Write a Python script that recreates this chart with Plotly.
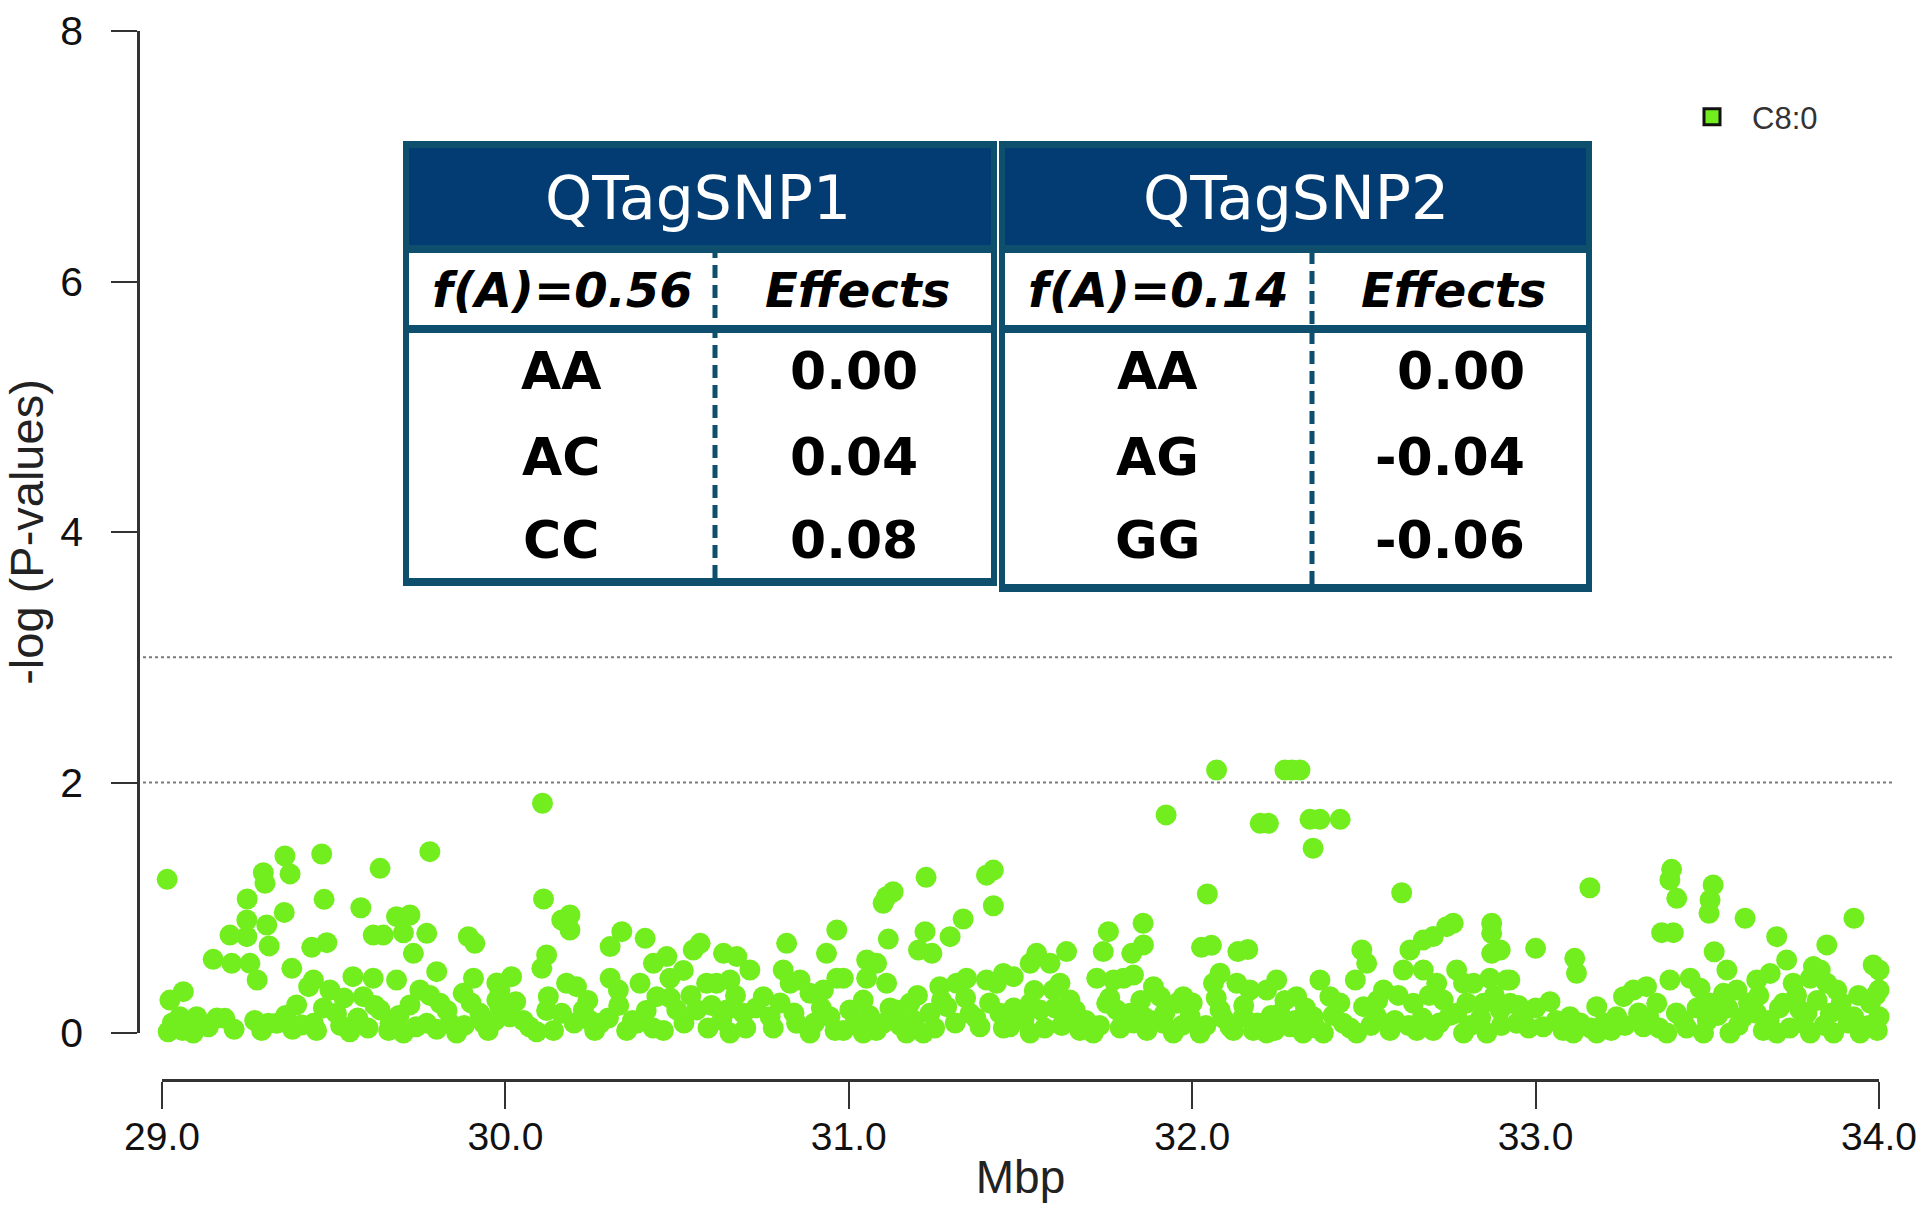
import plotly.graph_objects as go

# ---------------- data ----------------
trait_name = "C8:0"

# SNP positions (Mbp) and -log10(P) values
snp_mbp = [
    29.015, 29.358, 29.373, 29.295, 29.300, 29.465, 29.635, 29.780, 29.248, 29.472, 29.579, 29.356, 29.247, 29.305,
    29.198, 29.247, 29.312, 29.149, 29.203, 29.256, 29.277, 29.436, 29.480, 29.378, 29.615, 29.683, 29.722, 29.644,
    29.771, 29.732, 29.703, 29.892, 29.911, 29.062, 29.023, 29.018, 29.052, 29.101, 29.135, 29.183, 29.091, 29.310,
    29.334, 29.392, 29.407, 29.441, 29.441, 29.427, 29.489, 29.508, 29.556, 29.615, 29.547, 29.586, 29.635, 29.664,
    29.683, 29.703, 29.722, 29.751, 29.800, 29.771, 29.810, 29.839, 29.858, 29.877, 29.907, 29.926, 29.975, 29.975,
    29.936,
    30.108, 30.111, 30.188, 30.188, 30.164, 30.120, 30.106, 30.018, 29.984, 29.984, 30.013, 30.052, 30.091, 30.125,
    30.178, 30.207, 30.164, 30.227, 30.276, 30.246, 30.339, 30.305, 30.407, 30.305, 30.329, 30.353, 30.382, 30.392,
    30.431, 30.470, 30.479, 30.518, 30.441, 30.460, 30.499, 30.567, 30.547, 30.586, 30.557, 30.635, 30.674, 30.712,
    30.615, 30.654, 30.645, 30.654, 30.693, 30.751, 30.771, 30.819, 30.809, 30.829, 30.858, 30.887, 30.848, 30.887,
    30.926, 30.935, 30.965, 30.965, 30.945,
    31.924, 30.984, 31.110, 31.129, 31.100, 31.225, 31.421, 31.401, 31.421, 31.115, 31.222, 31.333, 31.295, 31.203,
    31.242, 31.052, 31.081, 31.052, 31.110, 31.042, 31.003, 30.984, 31.042, 31.100, 31.139, 31.178, 31.168, 31.217,
    31.236, 31.265, 31.285, 31.314, 31.343, 31.353, 31.382, 31.401, 31.430, 31.450, 31.479, 31.440, 31.469, 31.528,
    31.547, 31.586, 31.634, 31.615, 31.528, 31.528, 31.557, 31.596, 31.644, 31.634, 31.673, 31.712, 31.722, 31.741,
    31.756, 31.771, 31.800, 31.829, 31.824, 31.858, 31.857, 31.780, 31.751, 31.819, 31.858, 31.887, 31.907, 31.868,
    31.916, 31.945, 31.955,
    32.071, 32.270, 32.290, 32.314, 32.198, 32.222, 32.343, 32.372, 32.431, 32.352, 32.044, 32.610, 32.027, 32.056,
    32.133, 32.162, 32.081, 32.062, 32.130, 32.168, 32.246, 32.217, 32.304, 32.372, 32.401, 31.974, 31.994, 32.023,
    32.081, 32.110, 32.149, 32.178, 32.217, 32.256, 32.285, 32.323, 32.352, 32.382, 32.440, 32.494, 32.508, 32.475,
    32.499, 32.479, 32.537, 32.557, 32.576, 32.615, 32.634, 32.673, 32.702, 32.741, 32.760, 32.673, 32.712, 32.644,
    32.654, 32.702, 32.731, 32.770, 32.790, 32.770, 32.790, 32.819, 32.872, 32.872, 32.872, 32.897, 32.867, 32.916,
    32.848, 32.858, 32.897, 32.926, 32.945,
    33.158, 33.396, 33.391, 33.411, 33.517, 33.508, 33.505, 33.610, 33.927, 33.367, 33.401, 33.000, 33.114, 33.119,
    33.520, 33.557, 33.702, 33.731, 33.848, 33.809, 33.829, 33.983, 34.000, 34.000, 32.925, 33.042, 32.964, 33.022,
    33.100, 33.110, 33.178, 33.178, 33.236, 33.256, 33.285, 33.323, 33.353, 33.314, 33.382, 33.391, 33.450, 33.479,
    33.430, 33.508, 33.489, 33.547, 33.586, 33.605, 33.566, 33.644, 33.683, 33.644, 33.663, 33.702, 33.721, 33.750,
    33.770, 33.780, 33.800, 33.800, 33.848, 33.877, 33.858, 33.887, 33.868, 33.926, 33.945, 33.975, 34.000, 33.995,
    29.03, 29.06, 29.12, 29.16, 29.21, 29.27, 29.29, 29.36, 29.38, 29.45, 29.47, 29.52, 29.53,
    29.57, 29.60, 29.62, 29.66, 29.69, 29.74, 29.78, 29.80, 29.83, 29.88, 29.90, 29.95, 29.97,
    30.03, 30.07, 30.12, 30.14, 30.20, 30.24, 30.26, 30.30, 30.33, 30.37, 30.41, 30.43, 30.48,
    30.52, 30.54, 30.59, 30.60, 30.63, 30.67, 30.70, 30.73, 30.78, 30.80, 30.84, 30.90, 30.92, 30.96,
    31.02, 31.06, 31.08, 31.12, 31.15, 31.19, 31.20, 31.25, 31.27, 31.31, 31.34, 31.37, 31.41, 31.45, 31.48,
    31.51, 31.54, 31.57, 31.60, 31.62, 31.66, 31.69, 31.73, 31.76, 31.79, 31.83, 31.85, 31.88, 31.92, 31.97,
    32.00, 32.04, 32.07, 32.09, 32.12, 32.15, 32.19, 32.23, 32.24, 32.27, 32.30, 32.33, 32.36, 32.41, 32.43, 32.46,
    32.52, 32.54, 32.59, 32.60, 32.63, 32.67, 32.69, 32.72, 32.75, 32.80, 32.81, 32.84, 32.88, 32.90, 32.95, 32.98,
    33.00, 33.06, 33.08, 33.13, 33.16, 33.20, 33.22, 33.26, 33.30, 33.33, 33.36, 33.41, 33.44, 33.47, 33.50,
    33.53, 33.56, 33.59, 33.62, 33.65, 33.68, 33.71, 33.74, 33.76, 33.79, 33.82, 33.84, 33.89, 33.91, 33.94, 33.97, 33.99,
]
snp_neglogp = [
    1.227, 1.413, 1.270, 1.280, 1.195, 1.429, 1.315, 1.448, 1.070, 1.067, 1.000, 0.963, 0.902, 0.862,
    0.782, 0.769, 0.695, 0.588, 0.556, 0.556, 0.423, 0.684, 0.721, 0.516, 0.782, 0.929, 0.942, 0.782,
    0.796, 0.636, 0.800, 0.769, 0.716, 0.330, 0.263, 0.010, 0.130, 0.130, 0.050, 0.117, 0.000, 0.077,
    0.077, 0.224, 0.064, 0.077, 0.423, 0.370, 0.343, 0.157, 0.450, 0.437, 0.010, 0.290, 0.184, 0.077,
    0.423, 0.000, 0.224, 0.343, 0.490, 0.077, 0.237, 0.077, 0.000, 0.317, 0.437, 0.157, 0.263, 0.400,
    0.077,
    1.834, 1.070, 0.942, 0.822, 0.902, 0.623, 0.516, 0.450, 0.343, 0.210, 0.130, 0.100, 0.010, 0.290,
    0.397, 0.370, 0.157, 0.184, 0.077, 0.100, 0.809, 0.690, 0.756, 0.437, 0.343, 0.020, 0.077, 0.397,
    0.556, 0.610, 0.437, 0.500, 0.290, 0.020, 0.184, 0.716, 0.663, 0.397, 0.184, 0.636, 0.610, 0.503,
    0.397, 0.423, 0.184, 0.000, 0.157, 0.290, 0.130, 0.716, 0.503, 0.397, 0.423, 0.317, 0.077, 0.000,
    0.343, 0.636, 0.822, 0.437, 0.130,
    1.741, 0.437, 1.088, 1.128, 1.036, 1.243, 1.301, 1.260, 1.016, 0.750, 0.809, 0.910, 0.769, 0.663,
    0.636, 0.583, 0.556, 0.437, 0.397, 0.263, 0.184, 0.020, 0.000, 0.077, 0.184, 0.237, 0.000, 0.000,
    0.157, 0.370, 0.210, 0.397, 0.437, 0.157, 0.050, 0.423, 0.397, 0.476, 0.450, 0.157, 0.050, 0.556,
    0.636, 0.556, 0.650, 0.397, 0.237, 0.000, 0.184, 0.343, 0.263, 0.130, 0.020, 0.000, 0.437, 0.650,
    0.809, 0.423, 0.437, 0.463, 0.636, 0.703, 0.876, 0.184, 0.237, 0.157, 0.130, 0.370, 0.290, 0.020,
    0.077, 0.000, 0.237,
    2.100, 2.100, 2.100, 2.100, 1.674, 1.674, 1.706, 1.706, 1.706, 1.475, 1.110, 1.120, 0.684, 0.700,
    0.650, 0.667, 0.477, 0.397, 0.397, 0.343, 0.423, 0.343, 0.290, 0.423, 0.290, 0.290, 0.130, 0.000,
    0.184, 0.050, 0.130, 0.020, 0.000, 0.157, 0.050, 0.000, 0.130, 0.000, 0.077, 0.663, 0.556, 0.423,
    0.210, 0.000, 0.130, 0.343, 0.020, 0.503, 0.663, 0.743, 0.770, 0.849, 0.876, 0.503, 0.397, 0.237,
    0.020, 0.020, 0.263, 0.503, 0.397, 0.157, 0.000, 0.397, 0.876, 0.796, 0.636, 0.663, 0.437, 0.423,
    0.237, 0.000, 0.184, 0.237, 0.077,
    1.160, 1.307, 1.222, 1.075, 1.182, 1.062, 0.956, 0.916, 0.916, 0.801, 0.801, 0.676, 0.596, 0.477,
    0.649, 0.503, 0.769, 0.583, 0.703, 0.530, 0.503, 0.543, 0.503, 0.343, 0.423, 0.250, 0.130, 0.050,
    0.130, 0.000, 0.210, 0.000, 0.130, 0.290, 0.343, 0.370, 0.237, 0.050, 0.000, 0.423, 0.437, 0.357,
    0.100, 0.237, 0.000, 0.317, 0.343, 0.130, 0.000, 0.423, 0.476, 0.157, 0.020, 0.000, 0.237, 0.397,
    0.184, 0.077, 0.000, 0.437, 0.397, 0.343, 0.157, 0.184, 0.000, 0.130, 0.000, 0.237, 0.130, 0.020,
    0.08, 0.02, 0.06, 0.12, 0.03, 0.10, 0.02, 0.14, 0.03, 0.02, 0.20, 0.06, 0.28,
    0.12, 0.04, 0.22, 0.02, 0.14, 0.05, 0.30, 0.03, 0.18, 0.06, 0.24, 0.02, 0.10,
    0.25, 0.05, 0.18, 0.02, 0.08, 0.26, 0.02, 0.12, 0.22, 0.10, 0.18, 0.04, 0.28,
    0.08, 0.30, 0.04, 0.22, 0.10, 0.30, 0.04, 0.20, 0.04, 0.24, 0.16, 0.08, 0.20, 0.02,
    0.10, 0.14, 0.02, 0.20, 0.06, 0.10, 0.30, 0.04, 0.26, 0.08, 0.28, 0.12, 0.24, 0.04, 0.20,
    0.10, 0.34, 0.04, 0.20, 0.06, 0.18, 0.10, 0.06, 0.28, 0.04, 0.08, 0.26, 0.10, 0.16, 0.06,
    0.24, 0.06, 0.28, 0.12, 0.02, 0.22, 0.08, 0.14, 0.02, 0.26, 0.10, 0.20, 0.04, 0.14, 0.24, 0.04,
    0.06, 0.26, 0.10, 0.30, 0.06, 0.12, 0.30, 0.08, 0.14, 0.24, 0.06, 0.12, 0.30, 0.06, 0.22, 0.04,
    0.20, 0.10, 0.02, 0.08, 0.04, 0.08, 0.02, 0.06, 0.16, 0.12, 0.04, 0.16, 0.04, 0.20, 0.10,
    0.14, 0.20, 0.06, 0.24, 0.30, 0.10, 0.20, 0.04, 0.30, 0.16, 0.26, 0.06, 0.24, 0.08, 0.30, 0.06, 0.30,
]

threshold_levels = [2, 3]
x_tick_values = [29, 30, 31, 32, 33, 34]
x_tick_labels = ["29.0", "30.0", "31.0", "32.0", "33.0", "34.0"]
y_tick_values = [0, 2, 4, 6, 8]

# inset tables
snp_names = ["QTagSNP1", "QTagSNP2"]
allele_freq = ["f(A)=0.56", "f(A)=0.14"]
genotypes = [["AA", "AC", "CC"], ["AA", "AG", "GG"]]
genotype_effects = [["0.00", "0.04", "0.08"], ["0.00", "-0.04", "-0.06"]]

# ---------------- layout helpers ----------------
W, H = 1920, 1214
ML, MR, MT, MB = 100, 20, 10, 110
PW = W - ML - MR
PH = H - MT - MB


def fx(px):
    return (px - ML) / PW


def fy(py):
    return (H - MB - py) / PH


GREEN = "#72EE1E"
NAVY = "#033C72"
TEAL = "#0E4F6D"
AXIS = "#333333"
TICK_FONT = "Liberation Sans, Arial, sans-serif"
TAB_FONT = "DejaVu Sans, Verdana, sans-serif"

fig = go.Figure()
fig.add_trace(go.Scatter(
    x=snp_mbp, y=snp_neglogp, mode="markers", name=trait_name,
    marker=dict(color=GREEN, size=21, line=dict(width=0)),
    cliponaxis=False, showlegend=False, hoverinfo="x+y",
))
fig.add_trace(go.Scatter(
    x=[None], y=[None], mode="markers", name=trait_name,
    marker=dict(symbol="square", color=GREEN, size=16, line=dict(color="#111111", width=3)),
    showlegend=True,
))

shapes = []
for lvl in threshold_levels:
    shapes.append(dict(type="line", xref="paper", yref="y", x0=fx(143), x1=fx(1892), y0=lvl, y1=lvl,
                       line=dict(color="#7a7a7a", width=2, dash="dot"), layer="below"))

annotations = []

# table geometry (pixel layout)
tables = [
    dict(x0=403, x1=997, top=141, bottom=586, div=715, hdr_cx=698, gen_cx=561, eff_x=920, eff_anchor="right",
         fa_cx=562, effh_cx=857),
    dict(x0=999, x1=1592, top=141, bottom=592, div=1312, hdr_cx=1296, gen_cx=1157, eff_x=1527, eff_anchor="right",
         fa_cx=1158, effh_cx=1453),
]
row_y = [371, 457, 540]

for i, t in enumerate(tables):
    b = 6
    shapes.append(dict(type="rect", xref="paper", yref="paper", x0=fx(t["x0"]), x1=fx(t["x1"]),
                       y0=fy(t["bottom"]), y1=fy(t["top"]), fillcolor=TEAL, line=dict(width=0), layer="above"))
    shapes.append(dict(type="rect", xref="paper", yref="paper", x0=fx(t["x0"] + b), x1=fx(t["x1"] - b),
                       y0=fy(245), y1=fy(t["top"] + 7), fillcolor=NAVY, line=dict(width=0), layer="above"))
    shapes.append(dict(type="rect", xref="paper", yref="paper", x0=fx(t["x0"] + b), x1=fx(t["x1"] - b),
                       y0=fy(325), y1=fy(253), fillcolor="white", line=dict(width=0), layer="above"))
    shapes.append(dict(type="rect", xref="paper", yref="paper", x0=fx(t["x0"] + b), x1=fx(t["x1"] - b),
                       y0=fy(t["bottom"] - 8), y1=fy(333), fillcolor="white", line=dict(width=0), layer="above"))
    shapes.append(dict(type="line", xref="paper", yref="paper", x0=fx(t["div"]), x1=fx(t["div"]),
                       y0=fy(t["bottom"] - 8), y1=fy(253),
                       line=dict(color=TEAL, width=5, dash="13px,7px"), layer="above"))

    annotations.append(dict(xref="paper", yref="paper", x=fx(t["hdr_cx"]), y=fy(198), text=snp_names[i],
                            showarrow=False, xanchor="center", yanchor="middle",
                            font=dict(family=TAB_FONT, size=60, color="white")))
    annotations.append(dict(xref="paper", yref="paper", x=fx(t["fa_cx"]), y=fy(290),
                            text="<b><i>%s</i></b>" % allele_freq[i], showarrow=False,
                            xanchor="center", yanchor="middle",
                            font=dict(family=TAB_FONT, size=48, color="black")))
    annotations.append(dict(xref="paper", yref="paper", x=fx(t["effh_cx"]), y=fy(290),
                            text="<b><i>Effects</i></b>", showarrow=False,
                            xanchor="center", yanchor="middle",
                            font=dict(family=TAB_FONT, size=48, color="black")))
    for r in range(3):
        annotations.append(dict(xref="paper", yref="paper", x=fx(t["gen_cx"]), y=fy(row_y[r]),
                                text="<b>%s</b>" % genotypes[i][r], showarrow=False,
                                xanchor="center", yanchor="middle",
                                font=dict(family=TAB_FONT, size=52, color="black")))
        annotations.append(dict(xref="paper", yref="paper", x=fx(t["eff_x"]), y=fy(row_y[r]),
                                text="<b>%s</b>" % genotype_effects[i][r], showarrow=False,
                                xanchor=t["eff_anchor"], yanchor="middle",
                                font=dict(family=TAB_FONT, size=52, color="black")))

fig.update_layout(
    width=W, height=H,
    margin=dict(l=ML, r=MR, t=MT, b=MB, pad=0),
    paper_bgcolor="white", plot_bgcolor="white",
    font=dict(family=TICK_FONT, color="#111111"),
    xaxis=dict(
        domain=[fx(162), fx(1879)], range=[29, 34], anchor="free", position=fy(1080),
        tickmode="array", tickvals=x_tick_values, ticktext=x_tick_labels,
        ticks="outside", ticklen=27, tickwidth=2, tickcolor=AXIS,
        showline=True, linecolor=AXIS, linewidth=2.5,
        showgrid=False, zeroline=False, automargin=False,
        ticklabeloverflow="allow", ticklabelstandoff=-6,
        tickfont=dict(size=39, family=TICK_FONT, color="#111111"),
        title=dict(text="Mbp", font=dict(size=46, family=TICK_FONT, color="#222222"), standoff=4),
    ),
    yaxis=dict(
        domain=[fy(1033), fy(31)], range=[0, 8], anchor="free", position=fx(138),
        tickmode="array", tickvals=y_tick_values,
        ticks="outside", ticklen=26, tickwidth=2, tickcolor=AXIS,
        showline=True, linecolor=AXIS, linewidth=2.5,
        showgrid=False, zeroline=False, automargin=False,
        ticklabelstandoff=20,
        tickfont=dict(size=41, family=TICK_FONT, color="#111111"),
        title=dict(text="-log (P-values)", font=dict(size=47, family=TICK_FONT, color="#222222"), standoff=12),
    ),
    legend=dict(x=fx(1672), y=fy(117), xanchor="left", yanchor="middle",
                itemwidth=70,
                font=dict(size=31, family=TICK_FONT, color="#333333"),
                bgcolor="rgba(0,0,0,0)", borderwidth=0),
    shapes=shapes,
    annotations=annotations,
)

fig.write_html("out.html", config={"displayModeBar": False},
               post_script="document.body.style.margin='0';document.body.style.overflow='hidden';")
